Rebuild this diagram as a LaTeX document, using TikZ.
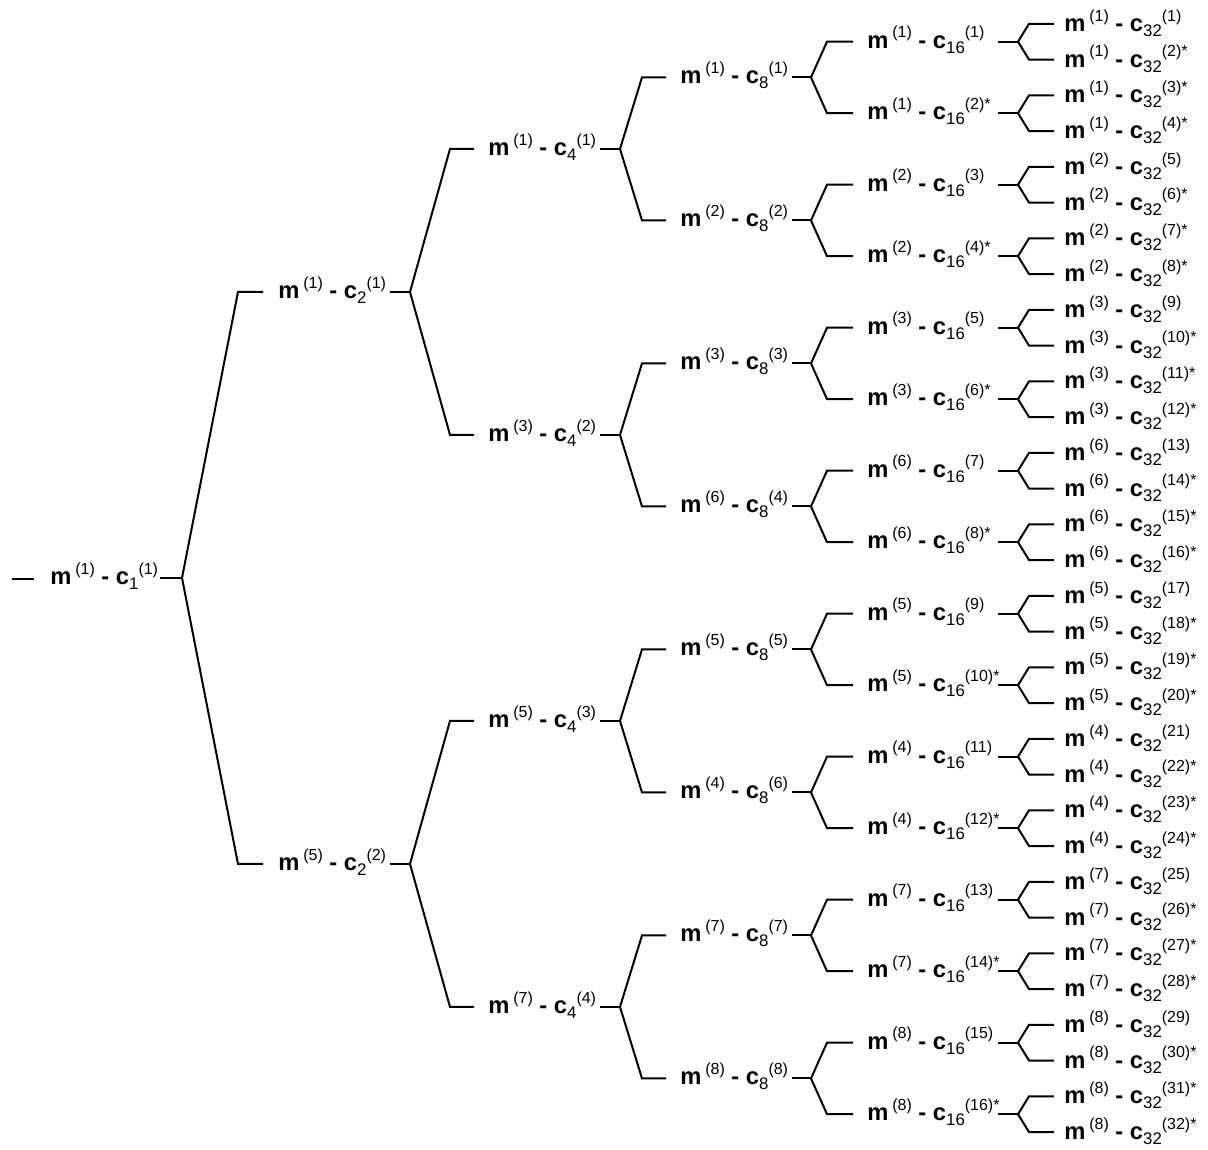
\documentclass[tikz,border=0pt]{standalone}
\usepackage{fontspec}
\setmainfont{Liberation Sans}
\newcommand\suptxt[1]{\raisebox{7.7pt}{\fontsize{12}{12}\selectfont #1}}
\newcommand\subtxt[1]{\raisebox{-3.75pt}{\fontsize{12.6}{12}\selectfont #1}}
\newcommand\mclab[4]{\textbf{m}\,\suptxt{(#1)} \textbf{-} \textbf{c}\subtxt{#2}\suptxt{(#3)#4}}
\begin{document}
\begin{tikzpicture}[x=0.75pt,y=-0.75pt,
  conn/.style={line width=1.5pt},
  lbl/.style={anchor=base west, inner sep=0pt, font=\fontsize{17.8}{20}\selectfont}]
\useasboundingbox (0,0) rectangle (1208,1150);
\foreach \L in {0,...,5}{
  \pgfmathtruncatemacro\N{2^\L}
  \pgfmathsetmacro\xin{{0,238,450,642,827,1029}[\L]}
  \pgfmathsetmacro\xhin{{0,263,474,666,853,1054}[\L]}
  \pgfmathsetmacro\xt{{50,278,488,680,867,1064}[\L]}
  \pgfmathsetmacro\xout{{160,390,600,792,998,0}[\L]}
  \pgfmathsetmacro\xbr{{182,410,620,811,1018,0}[\L]}
  \pgfmathsetmacro\dy{\L==5 ? 7.5 : 6.5}
  \foreach \k in {1,...,\N}{
    \pgfmathsetmacro\yy{23.8+35.75*((\k-1)*2^(5-\L)+(2^(5-\L)-1)/2)}
    \pgfmathtruncatemacro\mi{{1,2,3,6,5,4,7,8}[int(floor((\k-1)*2^(3-\L)))]}
    \pgfmathtruncatemacro\isst{(\L==4)*(mod(\k,2)==0)+(\L==5)*(mod(\k-1,4)!=0)}
    \node[lbl] (n-\L-\k) at (\xt,\yy+\dy) {\mclab{\mi}{\N}{\k}{\ifnum\isst=1 *\fi}};
    \coordinate (in-\L-\k) at (\xin,\yy);
    \coordinate (hin-\L-\k) at (\xhin,\yy);
    \coordinate (out-\L-\k) at (\xout,\yy);
    \coordinate (br-\L-\k) at (\xbr,\yy);
    \ifnum\L>0
      \pgfmathtruncatemacro\p{int((\k+1)/2)}
      \pgfmathtruncatemacro\pL{\L-1}
      \draw[conn] (br-\pL-\p) -- (in-\L-\k) -- (hin-\L-\k);
    \fi
    \ifnum\L<5
      \draw[conn] (out-\L-\k) -- (br-\L-\k);
    \fi
  }
}
\coordinate (lead-a) at (12,578.9);
\coordinate (lead-b) at (34,578.9);
\draw[conn] (lead-a) -- (lead-b);
\end{tikzpicture}
\end{document}
